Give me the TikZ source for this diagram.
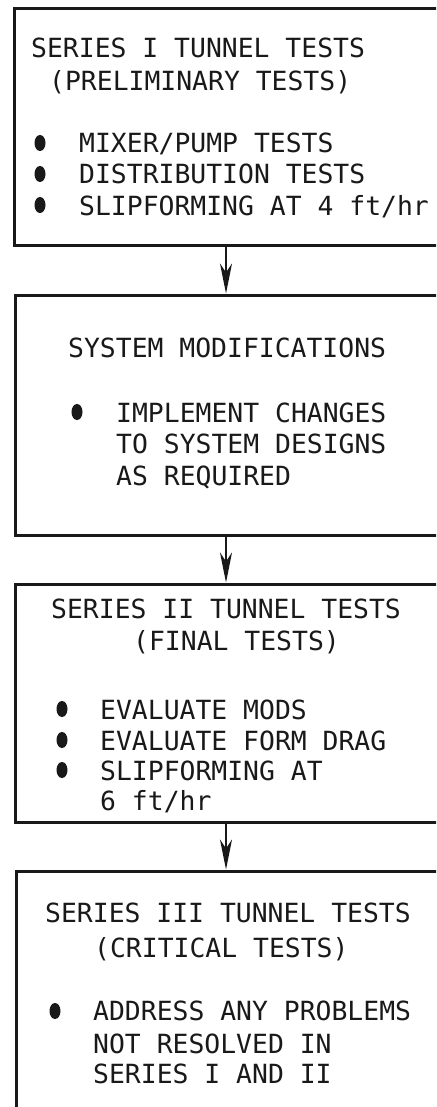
\documentclass[tikz,border=0pt]{standalone}
\usepackage{fontspec}
\newfontfamily\typew{DejaVu Sans Mono}
\usetikzlibrary{arrows.meta,shapes.geometric}
\tikzset{
  box/.style={draw=black!90, line width=3pt, rectangle, inner sep=0pt, fill=white},
  txt/.style={anchor=base west, inner sep=0pt, font=\typew\fontsize{26.4}{30}\selectfont, text=black!90},
  dot/.style={ellipse, fill=black!90, inner sep=0pt, minimum width=11pt, minimum height=16pt},
  arr/.style={draw=black!90, line width=2pt, -{Stealth[length=30pt,width=12pt,inset=9pt]}}
}
\begin{document}
\begin{tikzpicture}[x=1pt,y=-1pt]
\useasboundingbox (0,0) rectangle (436,1107);
\clip (0,0) rectangle (436,1107);
\fill[white] (0,0) rectangle (436,1107);
% boxes (right edges lie beyond the page)
\node[box, minimum width=456pt, minimum height=236pt] (b1) at (242,127) {};
\node[box, minimum width=455pt, minimum height=240pt] (b2) at (242.5,415) {};
\node[box, minimum width=455pt, minimum height=238pt] (b3) at (242.5,703) {};
\node[box, minimum width=454pt, minimum height=260pt] (b4) at (243,1001) {};
\coordinate (ax) at (226,0);
% connectors
\draw[arr] (b1.south -| ax) -- (b2.north -| ax);
\draw[arr] (b2.south -| ax) -- (b3.north -| ax);
\draw[arr] (b3.south -| ax) -- (b4.north -| ax);
% box 1
\node[txt] (t11) at (31,58) {SERIES I TUNNEL TESTS};
\node[txt] (t12) at (49,91) {(PRELIMINARY TESTS)};
\node[dot] (d11) at (40,143) {};
\node[dot] (d12) at (40,174) {};
\node[dot] (d13) at (40,205) {};
\node[txt] (t13) at (79,153) {MIXER/PUMP TESTS};
\node[txt] (t14) at (79,184) {DISTRIBUTION TESTS};
\node[txt] (t15) at (79,215) {SLIPFORMING AT 4 ft/hr};
% box 2
\node[txt] (t21) at (68,357) {SYSTEM MODIFICATIONS};
\node[dot] (d21) at (77,412) {};
\node[txt] (t22) at (116,422) {IMPLEMENT CHANGES};
\node[txt] (t23) at (116,453) {TO SYSTEM DESIGNS};
\node[txt] (t24) at (116,485) {AS REQUIRED};
% box 3
\node[txt] (t31) at (51,618) {SERIES II TUNNEL TESTS};
\node[txt] (t32) at (133,650) {(FINAL TESTS)};
\node[dot] (d31) at (62,709) {};
\node[dot] (d32) at (62,740) {};
\node[dot] (d33) at (62,770) {};
\node[txt] (t33) at (100,719) {EVALUATE MODS};
\node[txt] (t34) at (100,750) {EVALUATE FORM DRAG};
\node[txt] (t35) at (100,780) {SLIPFORMING AT};
\node[txt] (t36) at (100,810) {6 ft/hr};
% box 4
\node[txt] (t41) at (45,922) {SERIES III TUNNEL TESTS};
\node[txt] (t42) at (94,957) {(CRITICAL TESTS)};
\node[dot] (d41) at (55,1011) {};
\node[txt] (t43) at (93,1020) {ADDRESS ANY PROBLEMS};
\node[txt] (t44) at (93,1053) {NOT RESOLVED IN};
\node[txt] (t45) at (93,1083) {SERIES I AND II};
\end{tikzpicture}
\end{document}
